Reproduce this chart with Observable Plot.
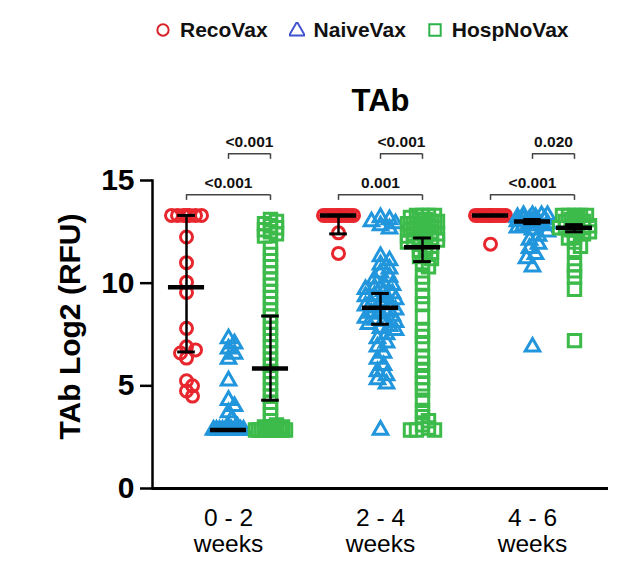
<!DOCTYPE html>
<html><head><meta charset="utf-8">
<script src="https://cdn.jsdelivr.net/npm/d3@7"></script>
<script src="https://cdn.jsdelivr.net/npm/@observablehq/plot@0.6"></script>
<style>
body{margin:0;background:#fff;font-family:"Liberation Sans",Arial,sans-serif;}
#legend{height:60px;display:flex;align-items:center;padding-left:155px;box-sizing:border-box;font-weight:bold;font-size:21px;color:#111;}
.item{display:flex;align-items:center;margin-right:21px}
.item svg{margin-right:9px}
</style></head><body>
<div id="legend"></div>
<div id="chart"></div>
<script>
// ---- data ----
const weeks = ["0 - 2\nweeks", "2 - 4\nweeks", "4 - 6\nweeks"];
const groups = ["RecoVax", "NaiveVax", "HospNoVax"];
const yTicks = [0, 5, 10, 15];
const yLabel = "TAb Log2 (RFU)";
const title = "TAb";

const recoVax = [
  [13.3,13.3,13.3,13.3,13.3,13.3,13.3,12.25,11.0,10.05,9.55,7.8,6.9,6.75,6.6,6.35,5.25,5.0,4.75,4.5],
  [13.3,13.3,13.3,13.3,13.3,13.3,13.3,13.3,13.3,13.3,13.3,13.3,12.45,11.45],
  [13.3,13.3,13.3,13.3,13.3,13.3,13.3,13.3,13.3,13.3,13.3,13.3,13.3,11.9]
];
const naiveVax = [
  [7.3,7.05,6.8,6.55,6.3,5.25,4.3,4.0,3.7,3.35,3.0,3.0,2.85,2.85,2.85,2.85,2.85,2.85,2.85,2.85,2.85,2.85,2.85,2.85,2.85,2.85,2.85,2.85,2.85,2.85],
  [13.2,13.1,13.0,12.9,12.8,12.65,11.3,11.1,10.9,10.7,10.5,10.3,10.2,10.0,9.9,9.8,9.7,9.6,9.5,9.4,9.35,9.3,9.2,9.1,9.0,8.95,8.9,8.8,8.7,8.6,8.55,8.5,8.4,8.3,8.2,8.15,8.1,8.0,7.9,7.8,7.7,7.5,7.3,7.1,6.9,6.6,6.3,6.0,5.7,5.5,5.3,5.1,2.85],
  [13.3,13.3,13.3,13.3,13.2,13.2,13.1,13.1,13.1,13.0,13.0,13.0,13.0,12.9,12.9,12.9,12.8,12.8,12.7,12.6,12.5,12.3,12.1,11.9,11.7,11.4,11.2,10.8,6.9]
];
const hospNoVax = [
  [13.1,13.0,12.9,12.8,12.7,12.6,12.5,12.4,12.3,11.7,11.4,11.1,10.8,10.5,10.2,9.9,9.6,9.3,9.0,8.7,8.4,8.1,7.8,7.5,7.2,6.9,6.6,6.3,6.0,5.7,5.4,5.1,4.8,4.5,4.2,3.9,3.6,3.3,3.1,3.0,3.0,3.0,2.85,2.85,2.85,2.85,2.85,2.85,2.85,2.85,2.85,2.85,2.85,2.85,2.85,2.85,2.85,2.85],
  [13.3,13.3,13.3,13.3,13.2,13.1,13.1,13.0,13.0,12.9,12.9,12.8,12.8,12.7,12.7,12.6,12.6,12.5,12.5,12.4,12.4,12.3,12.3,12.2,12.2,12.1,12.1,12.0,12.0,11.9,11.8,11.7,11.6,11.5,11.4,11.3,11.2,11.0,10.8,10.3,10.0,9.35,9.0,8.35,7.7,7.4,7.05,6.4,6.1,5.75,5.4,5.1,4.8,4.3,3.8,3.5,3.3,3.1,2.95,2.85,2.85,2.85],
  [13.3,13.3,13.3,13.3,13.3,13.2,13.1,13.0,13.0,12.9,12.8,12.8,12.7,12.7,12.7,12.6,12.6,12.5,12.4,12.3,12.2,12.0,11.8,11.6,10.9,10.6,10.3,9.7,7.2]
];
// summary (median with interquartile range), week x group
const medians = [[9.8, 2.85, 5.85], [13.3, 8.8, 11.75], [13.3, 13.0, 12.7]];
const lowerQ  = [[6.65, 2.85, 4.3], [12.4, 8.0, 11.05], [13.3, 12.9, 12.5]];
const upperQ  = [[13.3, 2.85, 8.4], [13.3, 9.5, 12.2], [13.3, 13.1, 12.85]];
// p-values: outer bracket RecoVax–HospNoVax, inner bracket NaiveVax–HospNoVax
const pOuter = ["<0.001", "0.001", "<0.001"];
const pInner = ["<0.001", "<0.001", "0.020"];
const bracketLevels = [14.3, 16.3];

const pointColors = ["#E8262D", "#2196DC", "#3DBB4A"];
const legendColors = ["#D9232B", "#4052D0", "#2DB34A"];
const symbols = ["circle", "triangle", "square"];
const radii = [6, 5.4, 7];
const swarmGap = [7.5, 7.5, 6];

// ---- layout ----
const W = 624, H = 518, mL = 152, mR = 16, mT = 120, mB = 90;
const xPad = 0.81;
const pxPerX = (W - mL - mR) / 3 / (2 + 2 * xPad);
const pxPerY = (H - mT - mB) / 15;

function swarm(values, d = 7.5, step = 3, maxOff = 16) {
  const placed = [], offs = [];
  for (const v of values) {
    const y = v * pxPerY;
    let best = 0, bestDist = -1;
    outer: for (let k = 0; k * step <= maxOff; k++) {
      for (const s of (k === 0 ? [1] : [1, -1])) {
        const x = s * k * step;
        let md = Infinity;
        for (const p of placed) md = Math.min(md, Math.hypot(p[0] - x, p[1] - y));
        if (md >= d) { best = x; break outer; }
        if (md > bestDist) { bestDist = md; best = x; }
      }
    }
    placed.push([best, y]);
    offs.push(best / pxPerX);
  }
  return offs;
}

const series = [recoVax, naiveVax, hospNoVax];
const points = [];
series.forEach((ser, gi) => ser.forEach((vals, wi) => {
  const offs = swarm(vals, swarmGap[gi]);
  vals.forEach((v, i) => points.push({week: weeks[wi], group: groups[gi], gi, value: v, x: gi + offs[i]}));
}));

const summary = [];
weeks.forEach((w, wi) => groups.forEach((g, gi) => summary.push({week: w, gi, med: medians[wi][gi], lo: lowerQ[wi][gi], hi: upperQ[wi][gi]})));

const brackets = [];
weeks.forEach((w, wi) => {
  brackets.push({week: w, a: 0, b: 2, y: bracketLevels[0], label: pOuter[wi]});
  brackets.push({week: w, a: 1, b: 2, y: bracketLevels[1], label: pInner[wi]});
});
const tickLen = 0.27;

const marks = [
  Plot.ruleY([0], {strokeWidth: 3, stroke: "#000"}),
  Plot.frame({anchor: "left", facetAnchor: "left", strokeWidth: 2.5, stroke: "#000"}),
  Plot.axisY({ticks: yTicks, tickSize: 12, tickPadding: 6, fontSize: 30, fontWeight: "bold", strokeWidth: 2.5, label: null, stroke: "#000", color: "#000"}),
  Plot.axisFx({anchor: "bottom", tickSize: 0, tickPadding: 19, fontSize: 24.5, lineHeight: 1.06, label: null}),
  Plot.text([yLabel], {frameAnchor: "left", textAnchor: "middle", dx: -82, dy: -8, rotate: -90, fontSize: 30, fontWeight: "bold", facet: "super", fill: "#000"}),
  Plot.text([title], {frameAnchor: "top", dy: -70, lineAnchor: "bottom", fontSize: 31, fontWeight: "bold", facet: "super", fill: "#000"}),
  ...groups.map((g, gi) => Plot.dot(points.filter(p => p.gi === gi), {
    fx: "week", x: "x", y: "value", symbol: symbols[gi], r: radii[gi],
    stroke: pointColors[gi], strokeWidth: 3, fill: "none"
  })),
  Plot.ruleX(summary, {fx: "week", x: "gi", y1: "lo", y2: "hi", strokeWidth: 2.5, stroke: "#000"}),
  Plot.ruleY(summary, {fx: "week", y: "lo", x1: d => d.gi - 0.21, x2: d => d.gi + 0.21, strokeWidth: 3, stroke: "#000"}),
  Plot.ruleY(summary, {fx: "week", y: "hi", x1: d => d.gi - 0.21, x2: d => d.gi + 0.21, strokeWidth: 3, stroke: "#000"}),
  Plot.ruleY(summary, {fx: "week", y: "med", x1: d => d.gi - 0.43, x2: d => d.gi + 0.43, strokeWidth: 4.5, stroke: "#000"}),
  Plot.ruleY(brackets, {fx: "week", y: "y", x1: "a", x2: "b", stroke: "#444", strokeWidth: 1.5}),
  Plot.ruleX(brackets, {fx: "week", x: "a", y1: "y", y2: d => d.y - tickLen, stroke: "#444", strokeWidth: 1.5}),
  Plot.ruleX(brackets, {fx: "week", x: "b", y1: "y", y2: d => d.y - tickLen, stroke: "#444", strokeWidth: 1.5}),
  Plot.text(brackets, {fx: "week", x: d => (d.a + d.b) / 2, y: "y", text: "label", dy: -7, lineAnchor: "bottom", fontSize: 15.5, fontWeight: "bold", fill: "#111"})
];

const chart = Plot.plot({
  width: W, height: H, marginLeft: mL, marginRight: mR, marginTop: mT, marginBottom: mB,
  style: {fontFamily: "'Liberation Sans', Arial, sans-serif", color: "#000", background: "#fff"},
  fx: {domain: weeks, padding: 0, label: null},
  x: {domain: [-xPad, 2 + xPad], axis: null},
  y: {domain: [0, 15]},
  marks
});
document.getElementById("chart").appendChild(chart);

// legend
const legend = document.getElementById("legend");
groups.forEach((g, gi) => {
  const item = document.createElement("div");
  item.className = "item";
  const s = d3.create("svg").attr("width", 16).attr("height", 16);
  const sym = gi === 0 ? d3.symbolCircle : gi === 1 ? d3.symbolTriangle : d3.symbolSquare;
  const size = gi === 0 ? 100 : gi === 1 ? 110 : 130;
  s.append("path").attr("d", d3.symbol(sym, size)()).attr("transform", gi === 1 ? "translate(8,9)" : "translate(8,8)")
    .attr("fill", "none").attr("stroke", legendColors[gi]).attr("stroke-width", 2);
  item.appendChild(s.node());
  const t = document.createElement("span");
  t.textContent = g;
  item.appendChild(t);
  legend.appendChild(item);
});
</script>
</body></html>
